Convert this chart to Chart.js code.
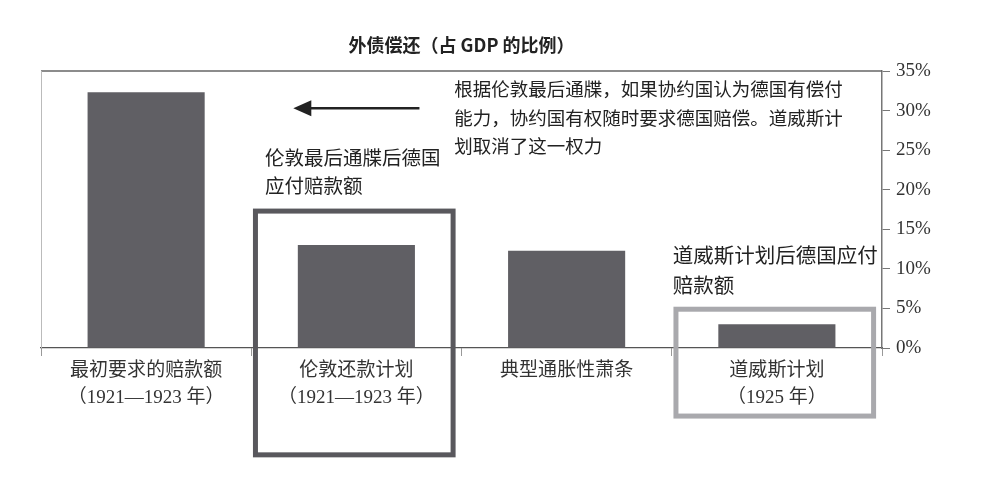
<!DOCTYPE html>
<html>
<head>
<meta charset="utf-8">
<script src="https://cdn.jsdelivr.net/npm/chart.js@4.4.0/dist/chart.umd.min.js"></script>
<style>
html, body { margin: 0; padding: 0; background: #fff; }
#wrap { width: 992px; height: 486px; }
</style>
</head>
<body>
<div id="wrap"><canvas id="chart"></canvas></div>
<script>
// data
var categories = [
    ['最初要求的赔款额', '（1921—1923 年）'],
    ['伦敦还款计划', '（1921—1923 年）'],
    '典型通胀性萧条',
    ['道威斯计划', '（1925 年）']
];
var debtShare = [32.3, 13.0, 12.3, 3.0];
var yMin = 0, yMax = 35, yStep = 5;

var chartTitle = '外债偿还（占 GDP 的比例）';
var noteUltimatum = ['根据伦敦最后通牒，如果协约国认为德国有偿付', '能力，协约国有权随时要求德国赔偿。道威斯计', '划取消了这一权力'];
var noteLondon = ['伦敦最后通牒后德国', '应付赔款额'];
var noteDawes = ['道威斯计划后德国应付', '赔款额'];

var cjk = '"Liberation Serif", "Noto Sans CJK SC", serif';
var cjkSans = '"Noto Sans CJK SC", sans-serif';

function drawLines(ctx, lines, x, y, lh) {
    lines.forEach(function(t, i) {
        ctx.fillText(t, x, y + i * lh);
    });
}

var overlay = {
    id: 'overlay',
    afterDraw: function(chart) {
        var ctx = chart.ctx, a = chart.chartArea;
        var xs = chart.scales.x, ys = chart.scales.y;
        var catW = xs.width / categories.length;
        ctx.save();

        // frame: top line and faint left line
        ctx.strokeStyle = '#666';
        ctx.lineWidth = 1.5;
        ctx.beginPath();
        ctx.moveTo(a.left, a.top);
        ctx.lineTo(a.right, a.top);
        ctx.stroke();
        ctx.strokeStyle = '#bbb';
        ctx.lineWidth = 1;
        ctx.beginPath();
        ctx.moveTo(a.left + 0.5, a.top);
        ctx.lineTo(a.left + 0.5, a.bottom);
        ctx.stroke();

        // title
        ctx.fillStyle = '#222';
        ctx.font = 'bold 18px ' + cjkSans;
        ctx.textAlign = 'center';
        ctx.textBaseline = 'middle';
        ctx.fillText(chartTitle, (a.left + a.right) / 2, 45);

        // arrow pointing at the first bar
        var ay = ys.getPixelForValue(30.3);
        var ax = xs.getPixelForValue(1);
        var half = catW * 0.3;
        ctx.strokeStyle = '#222';
        ctx.fillStyle = '#222';
        ctx.lineWidth = 2.5;
        ctx.beginPath();
        ctx.moveTo(ax + half, ay);
        ctx.lineTo(ax - half + 14, ay);
        ctx.stroke();
        ctx.beginPath();
        ctx.moveTo(ax - half, ay);
        ctx.lineTo(ax - half + 18, ay - 8);
        ctx.lineTo(ax - half + 18, ay + 8);
        ctx.closePath();
        ctx.fill();

        // boxes round the London and Dawes plans
        function box(cat, hw, top, bottom, color) {
            var cx = xs.getPixelForValue(cat);
            var t = ys.getPixelForValue(top), b = ys.getPixelForValue(bottom);
            ctx.strokeStyle = color;
            ctx.lineWidth = 5;
            ctx.strokeRect(cx - catW * hw, t, catW * hw * 2, b - t);
        }
        box(0.99, 0.47, 17.3, -13.5, '#59585d');
        box(2.99, 0.47, 4.9, -8.6, '#a9a9ad');

        // notes
        ctx.fillStyle = '#222';
        ctx.textAlign = 'left';
        ctx.textBaseline = 'middle';
        ctx.font = '18.5px ' + cjk;
        drawLines(ctx, noteUltimatum, xs.getPixelForValue(1.465), ys.getPixelForValue(32.4), 28.5);
        ctx.font = '19.5px ' + cjk;
        drawLines(ctx, noteLondon, xs.getPixelForValue(0.565), ys.getPixelForValue(23.8), 28);
        ctx.font = '20.5px ' + cjk;
        drawLines(ctx, noteDawes, xs.getPixelForValue(2.505), ys.getPixelForValue(11.4), 30);

        ctx.restore();
    }
};

new Chart(document.getElementById('chart'), {
    type: 'bar',
    data: {
        labels: categories,
        datasets: [{
            data: debtShare,
            backgroundColor: '#605f64',
            borderWidth: 0,
            categoryPercentage: 1.0,
            barPercentage: 0.557
        }]
    },
    options: {
        responsive: true,
        maintainAspectRatio: false,
        animation: false,
        devicePixelRatio: 1,
        layout: { padding: { left: 41, top: 71, right: 0, bottom: 0 } },
        plugins: {
            legend: { display: false },
            tooltip: { enabled: false },
            title: { display: false }
        },
        scales: {
            x: {
                position: 'bottom',
                grid: {
                    offset: true,
                    drawOnChartArea: false,
                    drawTicks: true,
                    tickLength: 8,
                    color: '#999'
                },
                border: { display: true, color: '#555', width: 1.2 },
                ticks: {
                    color: '#333',
                    padding: 1,
                    maxRotation: 0,
                    autoSkip: false,
                    font: { family: cjk, size: 19, lineHeight: 1.45 }
                },
                afterFit: function(scale) { scale.height = 138; }
            },
            y: {
                position: 'right',
                min: yMin,
                max: yMax,
                grid: {
                    drawOnChartArea: false,
                    drawTicks: true,
                    tickLength: 8,
                    color: '#777'
                },
                border: { display: true, color: '#777', width: 1.5 },
                ticks: {
                    stepSize: yStep,
                    color: '#333',
                    padding: 6,
                    font: { family: cjk, size: 19 },
                    callback: function(v) { return v + '%'; }
                },
                afterFit: function(scale) { scale.width = 110; }
            }
        }
    },
    plugins: [overlay]
});
</script>
</body>
</html>
